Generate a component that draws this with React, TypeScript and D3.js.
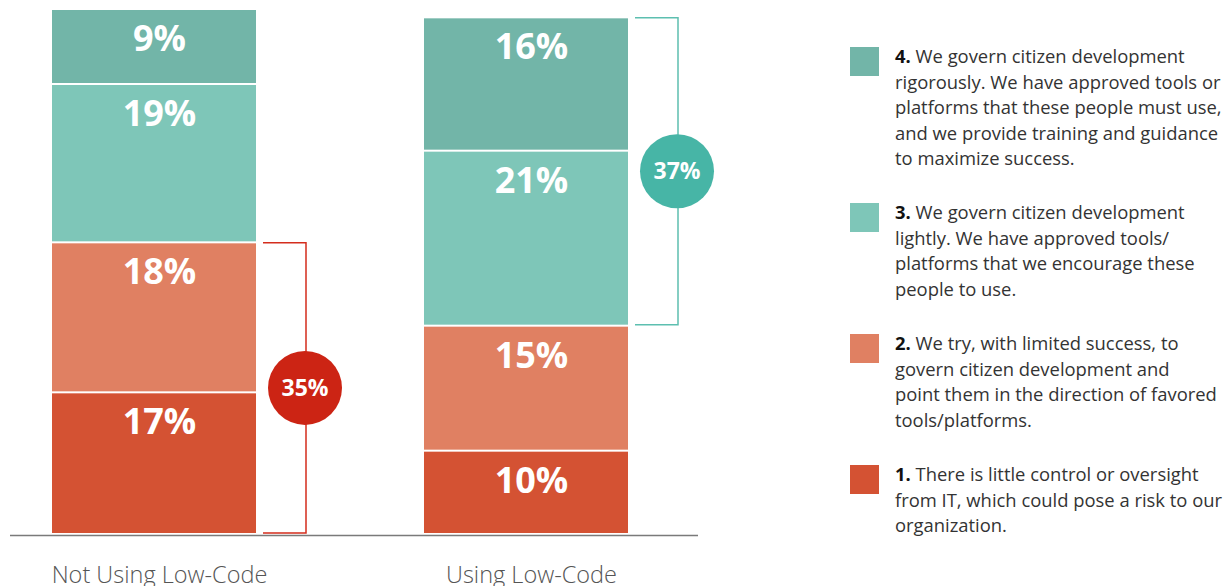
import React from "react";
import * as d3 from "d3";

const categories = ["Not Using Low-Code", "Using Low-Code"];
const levels = ["1", "2", "3", "4"];
const level1 = [17, 10];
const level2 = [18, 15];
const level3 = [19, 21];
const level4 = [9, 16];
const levelColors = ["#d45233", "#e08062", "#7ec6b8", "#72b5a8"];
const bracketLevels = [[0, 1], [2, 3]]; // which levels each bar's bracket groups
const bracketTotals = ["35%", "37%"];
const bracketColors = ["#d42d1d", "#5dbfb0"];
const circleColors = ["#cc2414", "#47b5a6"];

const legendItems = [
  { num: "4.", lines: ["We govern citizen development", "rigorously. We have approved tools or", "platforms that these people must use,", "and we provide training and guidance", "to maximize success."], color: levelColors[3] },
  { num: "3.", lines: ["We govern citizen development", "lightly. We have approved tools/", "platforms that we encourage these", "people to use."], color: levelColors[2] },
  { num: "2.", lines: ["We try, with limited success, to", "govern citizen development and", "point them in the direction of favored", "tools/platforms."], color: levelColors[1] },
  { num: "1.", lines: ["There is little control or oversight", "from IT, which could pose a risk to our", "organization."], color: levelColors[0] },
];
const legendTops = [47, 203, 334, 465];

export default function App() {
  const W = 1230, H = 586;
  const series = [level1, level2, level3, level4];
  const x = d3.scaleBand<string>().domain(categories).range([52, 628]).paddingInner(0.4516).paddingOuter(0);
  const y = d3.scaleLinear().domain([0, 63]).range([534, 9]);
  const bw = x.bandwidth();
  const labelShift = 5.5;

  const segs: any[] = [];
  categories.forEach((c, i) => {
    let cum = 0;
    series.forEach((s, li) => {
      const v0 = cum, v1 = cum + s[i];
      cum = v1;
      segs.push({ c, i, li, v0, v1, v: s[i] });
    });
  });

  const cumAt = (i: number, upto: number) => series.slice(0, upto).reduce((a, s) => a + s[i], 0);

  const font = "'Open Sans', sans-serif";
  const lh = 25.6;

  return (
    <svg width={W} height={H} style={{ position: "absolute", left: 0, top: 0, background: "#fff" }}>
      {segs.map((d, k) => {
        const top = y(d.v1) + 1;
        const bottom = y(d.v0) - 1;
        return (
          <g key={k}>
            <rect x={x(d.c)!} y={top} width={bw} height={bottom - top} fill={levelColors[d.li]} />
            <text x={x(d.c)! + bw / 2 + labelShift} y={top + 41} textAnchor="middle" fill="#fff" fontFamily={font} fontWeight={700} fontSize={36}>
              {d.v}%
            </text>
          </g>
        );
      })}
      <line x1={10} x2={698} y1={535.5} y2={535.5} stroke="#7a7a7a" strokeWidth={1.5} />
      {categories.map((c) => (
        <text key={c} x={x(c)! + bw / 2 + labelShift} y={583} textAnchor="middle" fill="#555" fontFamily={font} fontWeight={300} fontSize={23.5}>
          {c}
        </text>
      ))}
      {categories.map((c, i) => {
        const [la, lb] = bracketLevels[i];
        const yb = y(cumAt(i, la)) - 1;
        const yt = y(cumAt(i, lb + 1)) + 0.5;
        const xr = x(c)! + bw + 50;
        const xl = x(c)! + bw + 7;
        const cy = (yb + yt) / 2;
        return (
          <g key={"b" + i}>
            <path d={`M${xl},${yt}H${xr}V${yb}H${xl}`} fill="none" stroke={bracketColors[i]} strokeWidth={1.5} />
            <circle cx={xr - 1} cy={cy} r={37} fill={circleColors[i]} />
            <text x={xr - 1} y={cy + 8} textAnchor="middle" fill="#fff" fontFamily={font} fontWeight={700} fontSize={23}>
              {bracketTotals[i]}
            </text>
          </g>
        );
      })}
      {legendItems.map((it, k) => (
        <g key={"l" + k}>
          <rect x={850} y={legendTops[k]} width={29} height={29} fill={it.color} />
          {it.lines.map((ln, j) => (
            <text key={j} x={895} y={legendTops[k] + 16 + j * lh} fill="#333" fontFamily={font} fontSize={18.4}>
              {j === 0 ? <tspan fontWeight={700} fill="#111">{it.num} </tspan> : null}
              {ln}
            </text>
          ))}
        </g>
      ))}
    </svg>
  );
}
